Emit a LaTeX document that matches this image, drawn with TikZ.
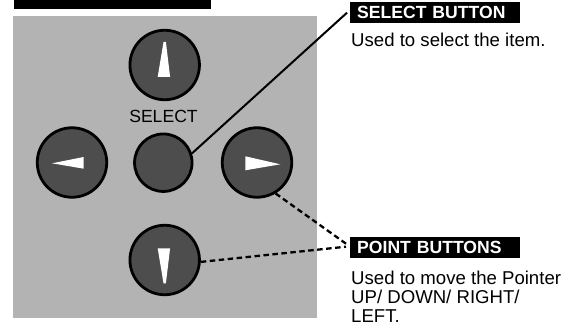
\documentclass[tikz,border=0pt]{standalone}
\usepackage{fontspec}
\setmainfont{Liberation Sans}
\definecolor{panelgrey}{RGB}{179,179,179}
\definecolor{btngrey}{RGB}{77,77,77}
\begin{document}
\begin{tikzpicture}[x=1pt,y=-1pt,
  btn/.style={circle,draw=black,line width=2.8pt,fill=btngrey,minimum size=69.5pt,inner sep=0pt},
  selbtn/.style={btn,minimum size=57.5pt},
  lbl/.style={fill=black,text=white,font=\fontsize{17.6}{21}\selectfont\bfseries,anchor=north west,
              minimum height=21pt,text width=160pt,inner xsep=5pt,inner ysep=0pt,align=left},
  body/.style={anchor=base west,inner sep=0pt,font=\fontsize{18.6}{21}\selectfont},
  lead/.style={line width=2pt},
  dlead/.style={line width=2.3pt,dash pattern=on 5.5pt off 3.5pt}]
\useasboundingbox (0,0) rectangle (576,326);
% top black bar and panel
\fill[black] (14,0) rectangle (211,9);
\fill[panelgrey] (13,16) rectangle (317,318);
% buttons
\node[btn] (up) at (164.7,65) {};
\node[btn] (down) at (164.7,260) {};
\node[btn] (left) at (72,162.5) {};
\node[btn] (right) at (257,162.5) {};
\node[selbtn] (sel) at (163.3,162.7) {};
\node[body,anchor=base,font=\fontsize{17.6}{21}\selectfont] (seltxt) at (163.5,123) {SELECT};
% arrow glyphs
\fill[white] ([xshift=-1.2pt]up.center) ++(0,-23) -- ++(2.4,0) -- ++(4.2,35) -- ++(-12.4,0) -- cycle;
\fill[white] ([xshift=-1.2pt]down.center) ++(0,23.3) -- ++(2.4,0) -- ++(4.2,-35) -- ++(-12.4,0) -- cycle;
\fill[white] (left.center) ++(-20,0.8) -- ++(31.7,-6.3) -- ++(0,11.7) -- cycle;
\fill[white] (right.center) ++(23.3,1.8) -- ++(-35,-8) -- ++(0,14) -- cycle;
% labels
\node[lbl] (sbtn) at (350,2) {\hspace{2pt}SELECT BUTTON};
\node[body] (stxt) at (351,47) {Used to select the item.};
\node[lbl] (pbtn) at (350,237) {\hspace{2pt}POINT BUTTONS};
\node[body] (p1) at (351,284) {Used to move the Pointer};
\node[body] (p2) at (351,303) {UP/ DOWN/ RIGHT/};
\node[body] (p3) at (351,322) {LEFT.};
% leaders
\draw[lead] (sel.18) -- ([xshift=-3pt]sbtn.west);
\draw[dlead] (right.-59) -- ([xshift=-4pt,yshift=4pt]pbtn.west);
\draw[dlead] (down.-3) -- ([xshift=-4pt,yshift=1pt]pbtn.west);
\end{tikzpicture}
\end{document}
